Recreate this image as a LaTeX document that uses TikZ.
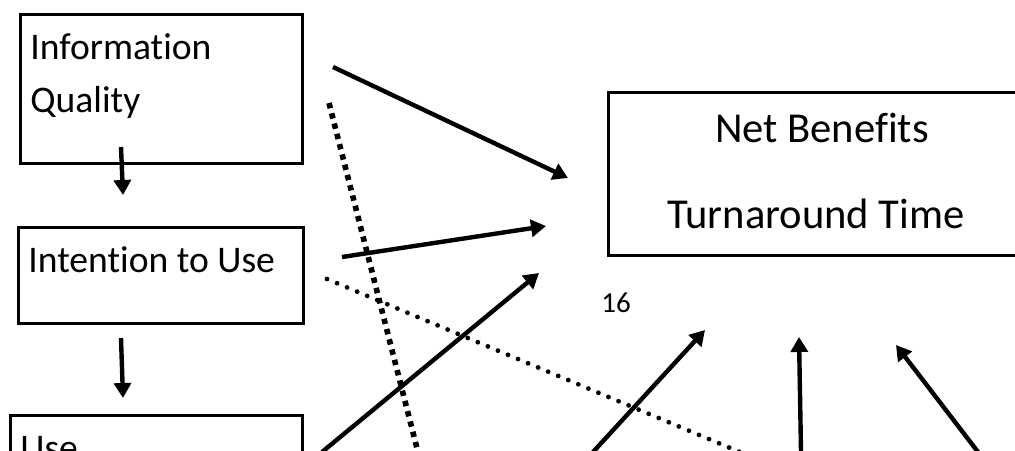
\documentclass[tikz,border=0pt]{standalone}
\usepackage{fontspec}
\setmainfont{Carlito}[Ligatures={NoCommon}]
\usetikzlibrary{arrows.meta, positioning}

\begin{document}
\begin{tikzpicture}[x=0.5pt, y=-0.5pt,
    box/.style={draw, line width=1.5pt, inner sep=0pt},
    lbl/.style={inner sep=0pt, anchor=base west, font=\fontsize{18.8pt}{22pt}\selectfont},
    arr/.style={-{Triangle[width=8.5pt,length=7.5pt]}, line width=2.2pt},
    sqdots/.style={line width=2.8pt, dash pattern=on 2.7pt off 2.6pt},
    rdots/.style={line width=2.4pt, line cap=round, dash pattern=on 0pt off 5.45pt}]

    \useasboundingbox (0,0) rectangle (1015,450);
    \clip (0,0) rectangle (1015,450);

    % Boxes on the left
    \node[box, minimum width=141pt, minimum height=74.5pt] (iq) at (161,88.5) {};
    \node[box, minimum width=142.5pt, minimum height=48pt] (itu) at (160.5,275) {};
    \node[box, minimum width=146pt, minimum height=72.5pt] (use) at (156,487.5) {};

    % Box on the right
    \node[box, minimum width=209pt, minimum height=81.5pt] (nb) at (817,173.5) {};

    % Texts
    \node[lbl] (iqa) at (30,59) {Information};
    \node[lbl] (iqb) at (30,112) {Quality};
    \node[lbl] (itut) at (28,272) {Intention to Use};
    \node[lbl] (uset) at (20,460) {Use};
    \node[lbl, anchor=base, font=\fontsize{21.3pt}{24pt}\selectfont] (nba) at (822,142) {Net Benefits};
    \node[lbl, anchor=base, font=\fontsize{21.3pt}{24pt}\selectfont] (nbb) at (816,228) {Turnaround Time};
    \node[lbl, font=\fontsize{14.5pt}{16pt}\selectfont] (pg) at (601,312) {16};

    % End points of the arrows
    \coordinate (d1s) at (121,147);  \coordinate (d1e) at (123,195);
    \coordinate (d2s) at (121,338);  \coordinate (d2e) at (123,398);
    \coordinate (n1s) at (333,67);   \coordinate (n1e) at (568,178);
    \coordinate (n2s) at (342,257);  \coordinate (n2e) at (546,226);
    \coordinate (n3s) at (322,452);  \coordinate (n3e) at (539,273);
    \coordinate (n4s) at (593,452);  \coordinate (n4e) at (705,330);
    \coordinate (n5s) at (801,452);  \coordinate (n5e) at (799,337);
    \coordinate (n6s) at (978,452);  \coordinate (n6e) at (896,345);

    % End points of the dotted lines
    \coordinate (q1s) at (329,103);  \coordinate (q1e) at (420,460);
    \coordinate (r1s) at (327,279);  \coordinate (r1e) at (747,455);

    % Arrows down the left column
    \draw[arr] (d1s) -- (d1e);
    \draw[arr] (d2s) -- (d2e);

    % Arrows towards net benefits
    \draw[arr] (n1s) -- (n1e);
    \draw[arr] (n2s) -- (n2e);
    \draw[arr] (n3s) -- (n3e);
    \draw[arr] (n4s) -- (n4e);
    \draw[arr] (n5s) -- (n5e);
    \draw[arr] (n6s) -- (n6e);

    % Dotted lines
    \draw[sqdots] (q1s) -- (q1e);
    \draw[rdots] (r1s) -- (r1e);

\end{tikzpicture}
\end{document}
